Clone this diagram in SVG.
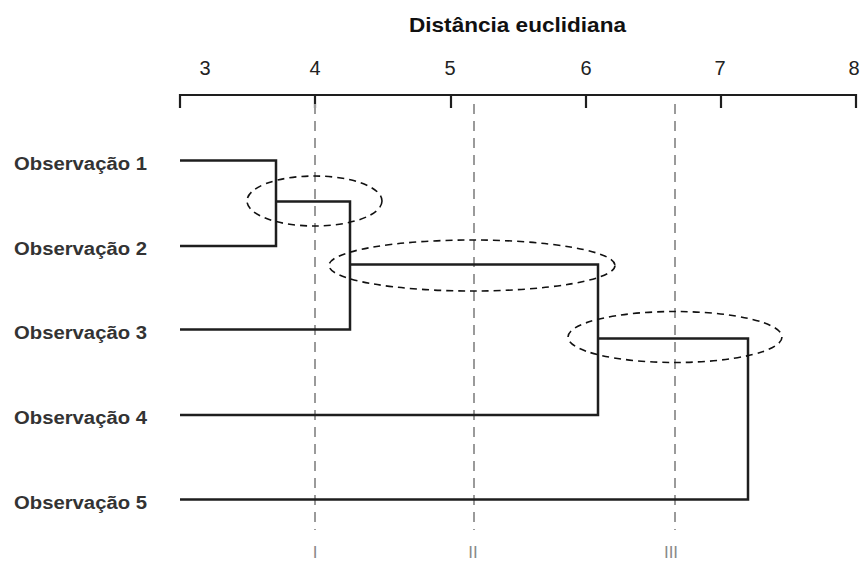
<svg xmlns="http://www.w3.org/2000/svg" width="861" height="563" viewBox="0 0 861 563">
  <style>
    .tree { fill: none; stroke: #1e1e1e; stroke-width: 2.5; stroke-linejoin: miter; }
    .axis { fill: none; stroke: #1e1e1e; stroke-width: 2.2; }
    .cut { fill: none; stroke: #9a9a9a; stroke-width: 2; stroke-dasharray: 10 7; }
    .oval { fill: none; stroke: #111; stroke-width: 1.6; stroke-dasharray: 7 5; }
    .lbl { font-family: "Liberation Sans", Arial, sans-serif; font-weight: bold; font-size: 18px; fill: #333; }
    .num { font-family: "Liberation Sans", Arial, sans-serif; font-size: 20px; fill: #222; text-anchor: middle; }
    .title { font-family: "Liberation Sans", Arial, sans-serif; font-weight: bold; font-size: 21px; fill: #111; }
    .roman { font-family: "Liberation Sans", Arial, sans-serif; font-size: 17px; fill: #8a8a8a; text-anchor: middle; }
  </style>
  <rect width="861" height="563" fill="#ffffff"/>

  <g id="axis">
    <text class="title" x="409" y="32" textLength="217" lengthAdjust="spacingAndGlyphs">Distância euclidiana</text>
    <path class="axis" d="M180,108 V95 H856 V108 M315,95 V108 M451,95 V108 M586,95 V108 M721,95 V108"/>
    <text class="num" x="205" y="75">3</text>
    <text class="num" x="315" y="75">4</text>
    <text class="num" x="450" y="75">5</text>
    <text class="num" x="586" y="75">6</text>
    <text class="num" x="720" y="75">7</text>
    <text class="num" x="854" y="75">8</text>
  </g>

  <g id="cuts">
    <line class="cut" x1="315" y1="104" x2="315" y2="530"/>
    <line class="cut" x1="474" y1="104" x2="474" y2="530"/>
    <line class="cut" x1="675" y1="104" x2="675" y2="530"/>
    <text class="roman" x="315" y="558">I</text>
    <text class="roman" x="473" y="558">II</text>
    <text class="roman" x="671" y="558">III</text>
  </g>

  <g id="obs1"><text class="lbl" x="14" y="170" textLength="133" lengthAdjust="spacingAndGlyphs">Observação 1</text></g>
  <g id="obs2"><text class="lbl" x="14" y="255" textLength="133" lengthAdjust="spacingAndGlyphs">Observação 2</text></g>
  <g id="obs3"><text class="lbl" x="14" y="339" textLength="133" lengthAdjust="spacingAndGlyphs">Observação 3</text></g>
  <g id="obs4"><text class="lbl" x="14" y="424" textLength="133" lengthAdjust="spacingAndGlyphs">Observação 4</text></g>
  <g id="obs5"><text class="lbl" x="14" y="509" textLength="133" lengthAdjust="spacingAndGlyphs">Observação 5</text></g>

  <g id="connectors">
    <path class="tree" d="M180,160.5 H276 V246 H180"/>
    <path class="tree" d="M276,201.5 H350 V329.5 H180"/>
    <path class="tree" d="M350,264.5 H598 V415 H180"/>
    <path class="tree" d="M598,338.5 H748 V499.5 H180"/>
  </g>

  <g id="ovals">
    <ellipse class="oval" cx="314.5" cy="201" rx="67.5" ry="25"/>
    <ellipse class="oval" cx="472" cy="265.5" rx="143" ry="25.5"/>
    <ellipse class="oval" cx="675" cy="337" rx="107" ry="25.5"/>
  </g>
</svg>
